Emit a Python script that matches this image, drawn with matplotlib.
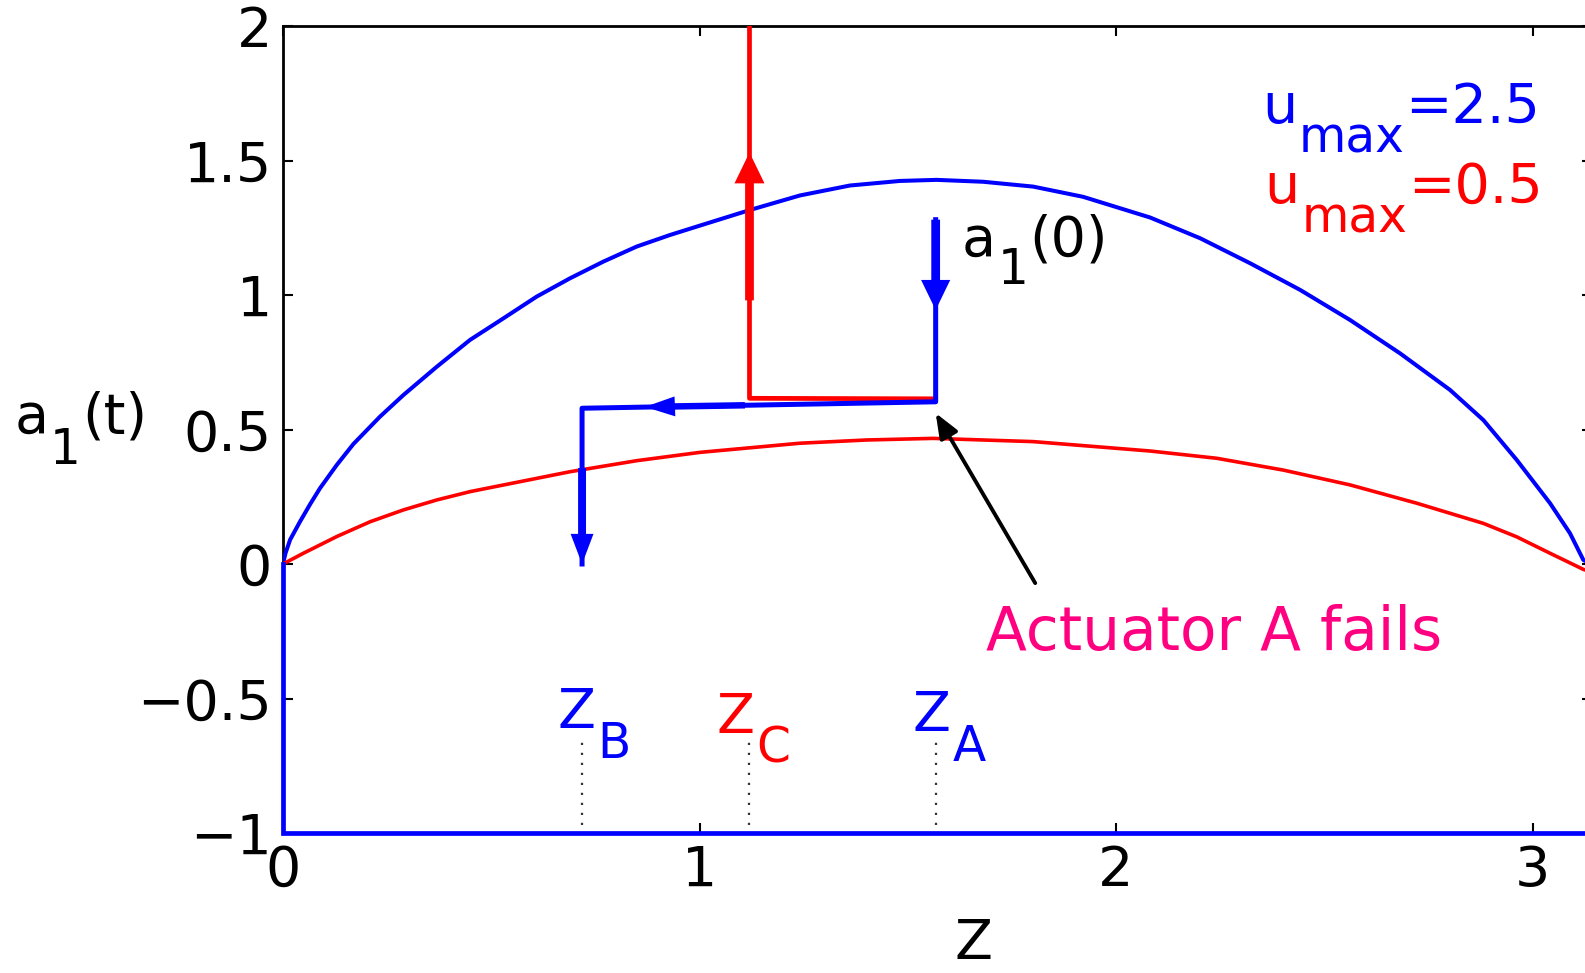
import matplotlib
matplotlib.use("Agg")
import matplotlib.pyplot as plt
import numpy as np

# switching curve for u_max = 2.5 (blue)
blue_z = [0.0, 0.006, 0.017, 0.041, 0.065, 0.089, 0.129, 0.169, 0.233, 0.289, 0.369, 0.449,
          0.529, 0.609, 0.689, 0.769, 0.849, 0.929, 1.001, 1.121, 1.241, 1.361, 1.481,
          1.569, 1.681, 1.801, 1.921, 2.082, 2.202, 2.322, 2.442, 2.562, 2.682, 2.802,
          2.882, 2.962, 3.042, 3.090, 3.122, np.pi]
blue_a = [0.0, 0.040, 0.090, 0.158, 0.222, 0.282, 0.368, 0.446, 0.548, 0.628, 0.733, 0.833,
          0.913, 0.994, 1.062, 1.124, 1.180, 1.223, 1.258, 1.316, 1.370, 1.407, 1.424,
          1.428, 1.421, 1.403, 1.365, 1.288, 1.211, 1.118, 1.019, 0.907, 0.783, 0.647,
          0.535, 0.387, 0.226, 0.114, 0.015, 0.0]

# switching curve for u_max = 0.5 (red)
red_z = [0.0, 0.049, 0.129, 0.209, 0.289, 0.369, 0.449, 0.569, 0.689, 0.849, 1.001,
         1.241, 1.401, 1.561, 1.801, 2.082, 2.242, 2.402, 2.562, 2.722, 2.882, 2.962,
         3.042, 3.122, np.pi]
red_a = [0.0, 0.040, 0.102, 0.157, 0.201, 0.238, 0.269, 0.306, 0.343, 0.384, 0.415,
         0.449, 0.461, 0.467, 0.455, 0.420, 0.393, 0.349, 0.294, 0.226, 0.151, 0.101,
         0.040, -0.020, -0.030]

# lower edge of the admissible region
edge_z = [0.0, 0.0, np.pi]
edge_a = [0.0, -1.0, -1.0]

# switching points
Z_A, Z_B, Z_C = 1.567, 0.718, 1.120

# trajectories after the failure
blue_traj_z = [Z_A, Z_A, Z_B, Z_B]
blue_traj_a = [1.28, 0.603, 0.579, 0.0]
red_traj_z = [Z_A, Z_C, Z_C]
red_traj_a = [0.614, 0.616, 2.0]

BLUE = "#0000FF"
RED = "#FF0000"
PINK = "#FF0080"
FS = 40

fig = plt.figure(figsize=(15.85, 9.73), dpi=100)
ax = fig.add_axes([283 / 1585, 140 / 973, 1308.5 / 1585, 807 / 973])

ax.plot(blue_z, blue_a, color=BLUE, lw=2.9, zorder=3, solid_joinstyle="round")
ax.plot(red_z, red_a, color=RED, lw=2.6, zorder=3, solid_joinstyle="round")
ax.plot(edge_z, edge_a, color=BLUE, lw=3.4, zorder=5, clip_on=False,
        solid_joinstyle="miter")

ax.plot(red_traj_z, red_traj_a, color=RED, lw=3.4, zorder=4)
ax.plot(blue_traj_z, blue_traj_a, color=BLUE, lw=3.6, zorder=4)

# quiver style arrows along the trajectories (x: 1px = 0.0024, y: 1px = 0.0037)
ax.arrow(Z_C, 0.98, 0, 0.55, width=0.021, head_width=0.072, head_length=0.115,
         length_includes_head=True, color=RED, lw=0, zorder=4)
ax.arrow(Z_A, 1.28, 0, -0.336, width=0.021, head_width=0.070, head_length=0.112,
         length_includes_head=True, color=BLUE, lw=0, zorder=4)
ax.arrow(1.109, 0.590, -0.240, -0.006, width=0.024, head_width=0.074, head_length=0.072,
         length_includes_head=True, color=BLUE, lw=0, zorder=4)
ax.arrow(Z_B, 0.357, 0, -0.357, width=0.019, head_width=0.055, head_length=0.112,
         length_includes_head=True, color=BLUE, lw=0, zorder=4)

# markers under the switching points
ax.vlines([Z_B, Z_C, Z_A], -0.97, -0.65, colors="#333333", lw=1.6,
          linestyles=[(0, (1.0, 3.5))], zorder=2)

# failure annotation
ax.annotate("", xy=(Z_A, 0.561), xytext=(1.806, -0.071),
            arrowprops=dict(arrowstyle="-|>,head_length=1.5,head_width=0.6",
                            color="k", lw=2.8, shrinkA=0, shrinkB=0))
ax.text(1.688, -0.320, "Actuator A fails", color=PINK, fontsize=43,
        ha="left", va="baseline")


def sub_label(x, y, base, sub, tail, color, drop, size=FS, sub_size=35, gap=1):
    t0 = ax.text(x, y, base, color=color, fontsize=size, ha="left",
                 va="baseline", clip_on=False)
    t1 = ax.annotate(sub, xy=(1, 0), xycoords=t0, xytext=(gap, -drop),
                     textcoords="offset points", color=color, fontsize=sub_size,
                     ha="left", va="bottom")
    if tail:
        ax.annotate(tail, xy=(1, 0), xycoords=(t1, t0), xytext=(gap, 0),
                    textcoords="offset points", color=color, fontsize=size,
                    ha="left", va="bottom")


sub_label(-0.645, 0.487, "a", "1", "(t)", "k", drop=21)
sub_label(1.630, 1.145, "a", "1", "(0)", "k", drop=18.5)
sub_label(2.350, 1.639, "u", "max", "=2.5", BLUE, drop=19.5)
sub_label(2.357, 1.342, "u", "max", "=0.5", RED, drop=19.5)
sub_label(0.660, -0.610, "Z", "B", "", BLUE, drop=20)
sub_label(1.041, -0.628, "Z", "C", "", RED, drop=20)
sub_label(1.512, -0.621, "Z", "A", "", BLUE, drop=20)

ax.set_xlim(0, np.pi)
ax.set_ylim(-1, 2)
ax.set_xticks([0, 1, 2, 3])
ax.set_xticklabels(["0", "1", "2", "3"])
ax.set_yticks([-1, -0.5, 0, 0.5, 1, 1.5, 2])
ax.set_yticklabels(["\u22121", "\u22120.5", "0", "0.5", "1", "1.5", "2"])
ax.tick_params(direction="in", length=7, width=1.5, top=True, right=True,
               labelsize=FS, pad=8)
for sp in ax.spines.values():
    sp.set_linewidth(2)

ax.set_xlabel("Z", fontsize=FS, va="baseline")
ax.xaxis.set_label_coords(0.528, -0.156)

fig.savefig("out.png", dpi=100, facecolor="white")
